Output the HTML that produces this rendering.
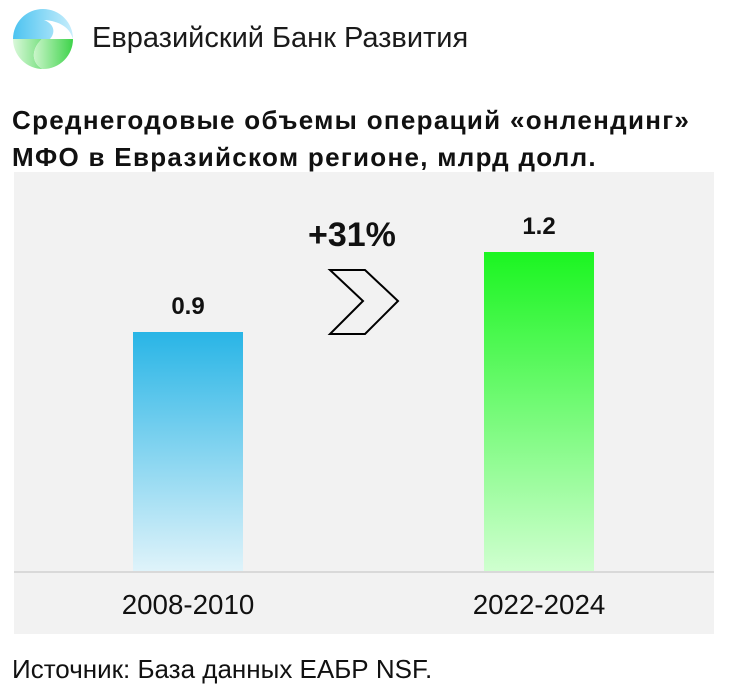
<!DOCTYPE html>
<html><head><meta charset="utf-8"><style>
body{margin:0;width:736px;height:697px;background:#fff;position:relative;overflow:hidden;font-family:"Liberation Sans",sans-serif;color:#111}
.a{position:absolute;white-space:nowrap}
</style></head><body>
<svg class="a" style="left:10px;top:6px" width="66" height="66" viewBox="0 0 66 66">
<defs>
<linearGradient id="gb" x1="0" y1="0" x2="1" y2="0"><stop offset="0" stop-color="#4cc3f0"/><stop offset="1" stop-color="#c8eefc"/></linearGradient>
<linearGradient id="gg" x1="0" y1="0" x2="1" y2="0"><stop offset="0" stop-color="#c9f5c9"/><stop offset="1" stop-color="#3ed34a"/></linearGradient>
</defs>
<path d="M33 3 A30 30 0 0 0 3 33 L40 33 C46 26 44 18 34 14 C50 15 60 22 63 33 A30 30 0 0 0 33 3Z" fill="url(#gb)"/>
<path d="M3 33 A30 30 0 0 0 33 63 C22 58 20 44 32 33Z" fill="url(#gg)" opacity=".7"/>
<path d="M32 33 L63 33 A30 30 0 0 1 33 63 C22 58 20 44 32 33Z" fill="url(#gg)"/>
</svg>
<div class="a" style="left:92px;top:22px;font-size:29px;color:#1a1a1a">Евразийский Банк Развития</div>
<div class="a" style="left:12px;top:102px;font-size:26px;letter-spacing:1.3px;font-weight:bold;line-height:37px">Среднегодовые объемы операций «онлендинг»<br>МФО в Евразийском регионе, млрд долл.</div>
<div class="a" style="left:14px;top:172px;width:700px;height:462px;background:#f2f2f2"></div>
<div class="a" style="left:14px;top:571px;width:700px;height:2px;background:#d9d9d9"></div>
<div class="a" style="left:133px;top:332px;width:110px;height:239px;background:linear-gradient(#29b5e6,#dff3fa)"></div>
<div class="a" style="left:484px;top:252px;width:110px;height:319px;background:linear-gradient(#1bf521,#cfffcf)"></div>
<div class="a" style="left:133px;top:293px;width:110px;text-align:center;font-size:24px;font-weight:bold">0.9</div>
<div class="a" style="left:484px;top:213px;width:110px;text-align:center;font-size:24px;font-weight:bold">1.2</div>
<div class="a" style="left:308px;top:216px;font-size:34px;font-weight:bold">+31%</div>
<svg class="a" style="left:0;top:0" width="736" height="697"><polygon points="330,270 365,270 398,301 365,334 330,334 363,301" fill="none" stroke="#000" stroke-width="2"/></svg>
<div class="a" style="left:88px;top:589px;width:200px;text-align:center;font-size:28px;transform:scaleX(.99)">2008-2010</div>
<div class="a" style="left:439px;top:589px;width:200px;text-align:center;font-size:28px;transform:scaleX(.99)">2022-2024</div>
<div class="a" style="left:12px;top:654px;font-size:26px">Источник: База данных ЕАБР NSF.</div>
</body></html>
